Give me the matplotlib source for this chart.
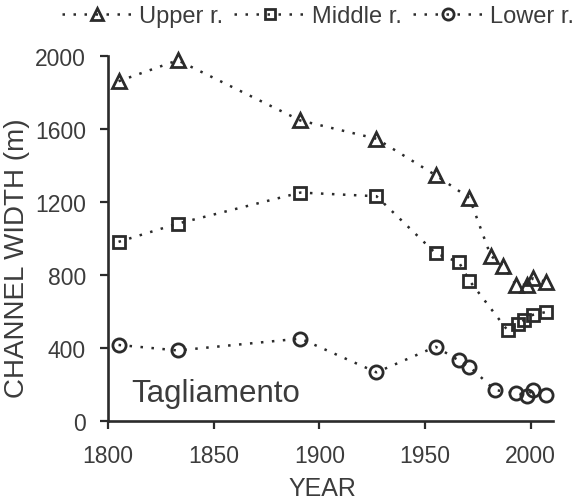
import matplotlib
matplotlib.use("Agg")
import matplotlib.pyplot as plt

plt.rcParams['font.family'] = ['Liberation Sans', 'DejaVu Sans']

# Channel width of the Tagliamento river by reach (m)
upper_years = [1805, 1833, 1891, 1927, 1955, 1971, 1981, 1987, 1993, 1998, 2001, 2007]
upper_width = [1860, 1975, 1645, 1545, 1345, 1220, 905, 845, 745, 745, 780, 762]

middle_years = [1805, 1833, 1891, 1927, 1955, 1966, 1971, 1989, 1994, 1997, 2001, 2007]
middle_width = [980, 1080, 1250, 1230, 917, 868, 767, 495, 530, 552, 580, 595]

lower_years = [1805, 1833, 1891, 1927, 1955, 1966, 1971, 1983, 1993, 1998, 2001, 2007]
lower_width = [415, 385, 450, 265, 405, 330, 296, 168, 152, 138, 170, 142]

series_labels = ["Upper r.", "Middle r.", "Lower r."]
x_ticks = [1800, 1850, 1900, 1950, 2000]
y_ticks = [0, 400, 800, 1200, 1600, 2000]

ink = "#2b2b2b"
text_col = "#3c3c3c"

fig = plt.figure(figsize=(5.85, 5.02), dpi=100)
ax = fig.add_axes([108 / 585, 80.3 / 502, 445 / 585, 365 / 502])

common = dict(linestyle=(0, (1.0, 3.4)), linewidth=1.8, color=ink,
              markerfacecolor="none", markeredgecolor=ink, markeredgewidth=2.0,
              clip_on=False)
h1, = ax.plot(upper_years, upper_width, marker="^", markersize=10.5, label=series_labels[0], **common)
h2, = ax.plot(middle_years, middle_width, marker="s", markersize=9, label=series_labels[1], **common)
h3, = ax.plot(lower_years, lower_width, marker="o", markersize=9.5, label=series_labels[2], **common)

ax.set_xlim(1800, 2010.5)
ax.set_ylim(0, 2000)
ax.set_xticks(x_ticks)
ax.set_yticks(y_ticks)

for side in ("top", "right"):
    ax.spines[side].set_visible(False)
for side in ("left", "bottom"):
    ax.spines[side].set_linewidth(1.9)
    ax.spines[side].set_color(ink)

ax.tick_params(axis="both", direction="out", length=6, width=1.6, color=ink,
               labelsize=16.5, labelcolor=text_col)
ax.tick_params(axis="x", pad=11)
ax.tick_params(axis="y", pad=10)

ax.text(1811.2, 110, "Tagliamento", fontsize=22.5, color=text_col, va="baseline", ha="left")

fig.text(322 / 585, 1 - 489.5 / 502, "YEAR", fontsize=18, color=text_col, ha="center", va="center")
fig.text(17 / 585, 1 - 258 / 502, "CHANNEL WIDTH (m)", fontsize=20, color=text_col,
         rotation=90, ha="center", va="center")

fig.legend(handles=[h1, h2, h3], loc="center", bbox_to_anchor=(318 / 585, 1 - 17 / 502),
           ncol=3, frameon=False, fontsize=17, handlelength=3.0, handletextpad=0.3,
           columnspacing=0.45, labelcolor=text_col, borderpad=0, markerscale=0.85)

fig.savefig("out.png", dpi=100)
